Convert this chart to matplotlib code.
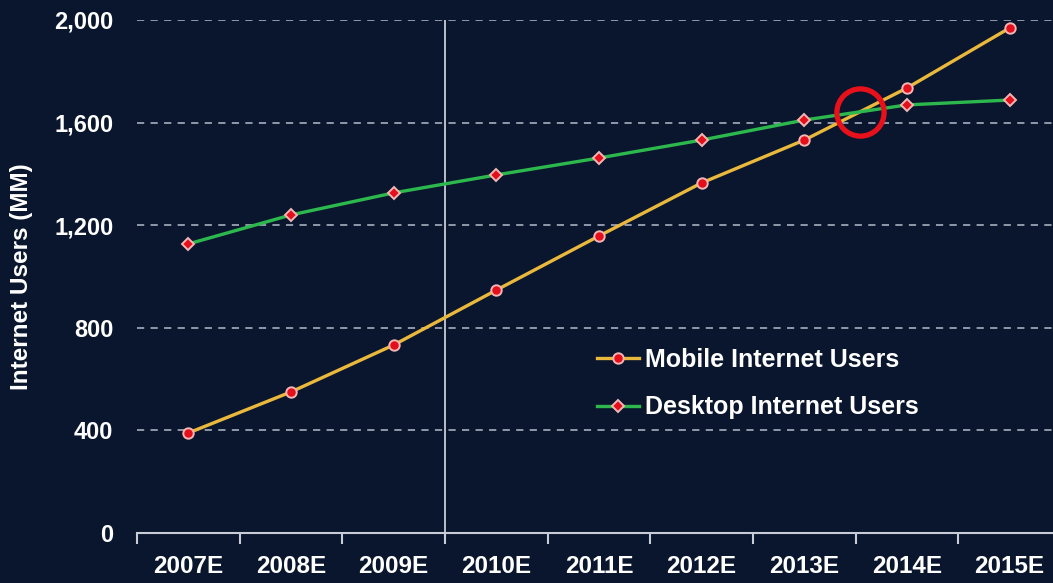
import matplotlib.pyplot as plt
import numpy as np

# Jahre und Nutzerzahlen (Mio.)
years = ["2007E", "2008E", "2009E", "2010E", "2011E", "2012E", "2013E", "2014E", "2015E"]
mobile = [390, 550, 733, 947, 1158, 1365, 1532, 1735, 1969]
desktop = [1127, 1240, 1326, 1396, 1462, 1532, 1610, 1669, 1688]
yticks = [0, 400, 800, 1200, 1600, 2000]

bg = "#09162d"
plt.rcParams["font.family"] = ["Liberation Sans", "DejaVu Sans"]
plt.rcParams["font.weight"] = "bold"

fig = plt.figure(figsize=(10.53, 5.83), dpi=100, facecolor=bg)
ax = fig.add_axes([137 / 1053, 50 / 583, 924 / 1053, 513 / 583], facecolor=bg)

x = np.arange(len(years))
ax.plot(x, mobile, color="#e9b83c", lw=2.4, marker="o", ms=7.5,
        mfc="#e3101c", mec="#f3b5b5", mew=1.4, label="Mobile Internet Users",
        clip_on=False, zorder=3)
ax.plot(x, desktop, color="#2db84e", lw=2.4, marker="D", ms=6.5,
        mfc="#e3101c", mec="#f3b5b5", mew=1.4, label="Desktop Internet Users",
        clip_on=False, zorder=3)

# Schnittpunkt der beiden Linien markieren
d = np.array(mobile) - np.array(desktop)
i = int(np.argmax(d > 0)) - 1
t = -d[i] / (d[i + 1] - d[i])
xc = x[i] + t
yc = desktop[i] + t * (desktop[i + 1] - desktop[i])
ax.plot([xc], [yc], marker="o", ms=34, mfc="none", mec="#e8101a", mew=3.8,
        zorder=4, clip_on=False)

# Trennlinie zwischen 2009E und 2010E
ax.axvline(2.5, color="#d8dce4", lw=1.2, zorder=1)

ax.set_xlim(-0.5, len(years) - 0.5)
ax.set_ylim(0, 2000)
ax.set_yticks(yticks)
ax.set_yticklabels([f"{v:,}" for v in yticks])
for v in yticks[1:]:
    ax.axhline(v, color="#9aa3b2", lw=1.3, ls=(0, (4, 3.5)), zorder=0)

ax.set_xticks(x)
ax.set_xticklabels(years)
ax.set_xticks(np.arange(-0.5, len(years)), minor=True)
ax.tick_params(axis="x", which="major", length=0, pad=16, colors="white", labelsize=17.5)
ax.tick_params(axis="x", which="minor", length=8, width=1.5, color="#c8ccd6", direction="out")
ax.tick_params(axis="y", length=0, pad=17, colors="white", labelsize=17)

for s in ["top", "right", "left"]:
    ax.spines[s].set_visible(False)
ax.spines["bottom"].set_color("#c8ccd6")
ax.spines["bottom"].set_linewidth(1.5)

ax.set_ylabel("Internet Users (MM)", color="white", fontsize=17.5, fontweight="bold")
ax.yaxis.set_label_coords(-0.113, 0.5)

leg = ax.legend(loc="upper left", bbox_to_anchor=(0.473, 0.405), frameon=False,
                fontsize=18, labelspacing=0.95, handlelength=1.7, handletextpad=0.25)
for txt in leg.get_texts():
    txt.set_color("white")

fig.savefig("out.png", dpi=100, facecolor=bg)
